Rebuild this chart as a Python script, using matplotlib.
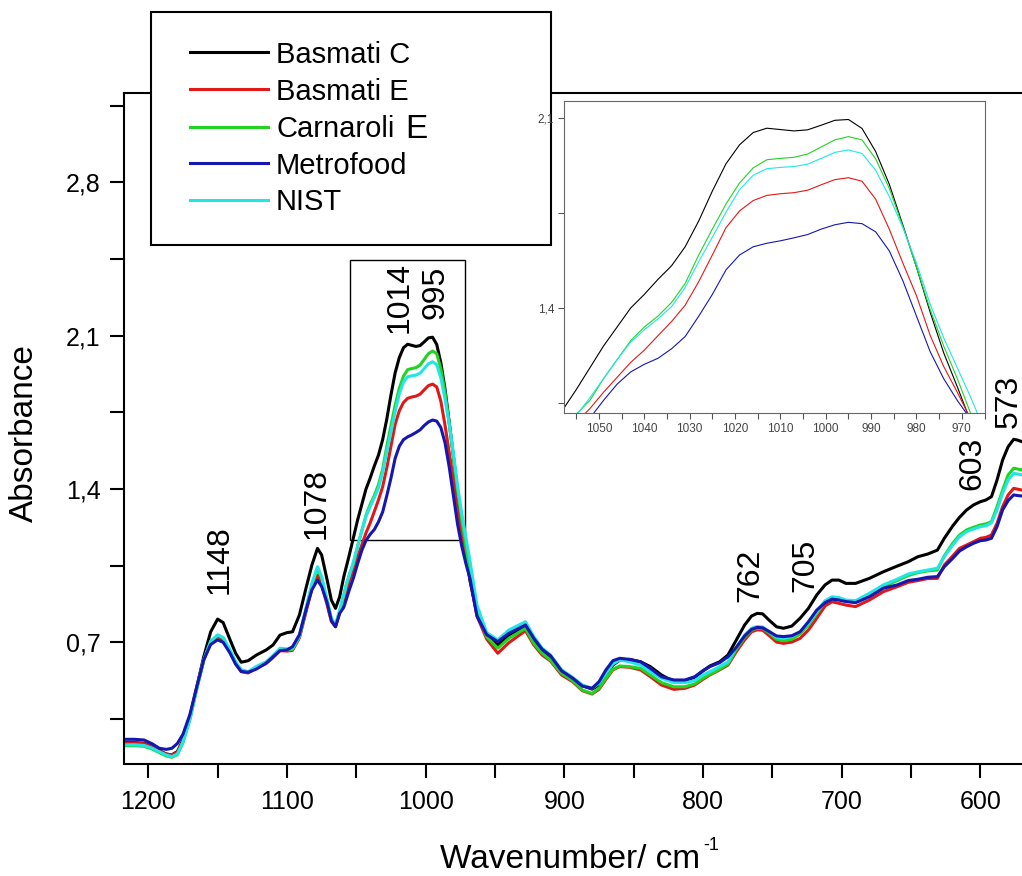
import matplotlib
matplotlib.use("Agg")
import matplotlib.pyplot as plt
from matplotlib.patches import Rectangle
from matplotlib.lines import Line2D
from matplotlib.ticker import FixedLocator, MultipleLocator, FuncFormatter

plt.rcParams['font.family'] = ['Liberation Sans', 'DejaVu Sans']

# ---------------- data ----------------
wavenumber = [
    1217, 1210, 1203, 1197, 1192, 1187, 1183, 1179, 1175, 1170,
    1165, 1160, 1155, 1150, 1146, 1141, 1137, 1133, 1128, 1122,
    1115, 1110, 1105, 1100, 1096, 1091, 1086, 1082, 1078, 1075,
    1071, 1068, 1065, 1062, 1059, 1057,
    1055, 1052, 1049, 1046, 1043, 1040, 1037, 1034, 1031, 1028,
    1025, 1022, 1019, 1016, 1013, 1010, 1007, 1004, 1001, 998,
    995, 992, 989, 986, 983, 980, 977, 974, 971, 968,
    963, 956, 948, 940, 928, 922, 916, 910, 902, 894,
    887, 880, 875, 870, 865, 860, 853, 845, 838, 830,
    821, 813, 806, 800, 795, 788, 782, 776, 770, 765,
    761, 757, 752, 747, 742, 736, 730, 724, 718, 712,
    707, 702, 697, 690, 680, 670, 660, 652, 645, 638,
    631, 626, 620, 615, 610, 605, 600, 596, 592, 588,
    584, 580, 576, 573, 570]

basmati_c = [
    0.242, 0.242, 0.239, 0.224, 0.205, 0.190, 0.186, 0.201, 0.254, 0.360,
    0.497, 0.634, 0.748, 0.806, 0.790, 0.711, 0.650, 0.609, 0.616, 0.642,
    0.665, 0.688, 0.733, 0.744, 0.748, 0.825, 0.954, 1.053, 1.129, 1.099,
    0.984, 0.893, 0.855, 0.908, 1.000, 1.050,
    1.100, 1.180, 1.260, 1.330, 1.400, 1.450, 1.505, 1.555, 1.625, 1.720,
    1.830, 1.930, 2.000, 2.045, 2.061, 2.056, 2.051, 2.055, 2.072, 2.090,
    2.093, 2.060, 1.975, 1.855, 1.705, 1.550, 1.385, 1.235, 1.110, 0.980,
    0.830, 0.730, 0.688, 0.733, 0.774, 0.711, 0.665, 0.634, 0.569, 0.536,
    0.502, 0.486, 0.505, 0.551, 0.596, 0.619, 0.622, 0.611, 0.589, 0.551,
    0.520, 0.525, 0.540, 0.570, 0.592, 0.611, 0.642, 0.711, 0.779, 0.820,
    0.832, 0.830, 0.799, 0.771, 0.764, 0.774, 0.810, 0.855, 0.916, 0.962,
    0.984, 0.984, 0.969, 0.969, 0.992, 1.022, 1.048, 1.068, 1.091, 1.103,
    1.121, 1.175, 1.231, 1.271, 1.304, 1.327, 1.342, 1.350, 1.365, 1.441,
    1.532, 1.593, 1.627, 1.623, 1.616]

basmati_e = [
    0.240, 0.240, 0.237, 0.222, 0.204, 0.189, 0.186, 0.198, 0.250, 0.355,
    0.493, 0.620, 0.700, 0.726, 0.713, 0.655, 0.603, 0.566, 0.560, 0.582,
    0.603, 0.630, 0.662, 0.660, 0.663, 0.720, 0.845, 0.945, 1.007, 0.965,
    0.870, 0.795, 0.771, 0.835, 0.895, 0.935,
    0.980, 1.030, 1.090, 1.145, 1.200, 1.245, 1.298, 1.350, 1.410, 1.497,
    1.595, 1.695, 1.757, 1.795, 1.814, 1.820, 1.824, 1.833, 1.853, 1.872,
    1.879, 1.866, 1.800, 1.690, 1.565, 1.445, 1.300, 1.185, 1.090, 0.990,
    0.820, 0.715, 0.650, 0.698, 0.753, 0.688, 0.642, 0.615, 0.551, 0.520,
    0.479, 0.464, 0.485, 0.531, 0.574, 0.589, 0.586, 0.574, 0.543, 0.505,
    0.485, 0.490, 0.505, 0.531, 0.551, 0.574, 0.596, 0.657, 0.711, 0.748,
    0.757, 0.755, 0.729, 0.701, 0.695, 0.701, 0.718, 0.756, 0.810, 0.866,
    0.885, 0.878, 0.870, 0.863, 0.893, 0.931, 0.954, 0.974, 0.982, 0.991,
    0.992, 1.053, 1.094, 1.129, 1.144, 1.159, 1.175, 1.179, 1.190, 1.243,
    1.319, 1.373, 1.403, 1.399, 1.395]

carnaroli_e = [
    0.228, 0.228, 0.225, 0.212, 0.196, 0.181, 0.175, 0.187, 0.242, 0.347,
    0.488, 0.617, 0.703, 0.733, 0.720, 0.660, 0.607, 0.570, 0.563, 0.586,
    0.607, 0.635, 0.668, 0.665, 0.668, 0.726, 0.857, 0.962, 1.038, 0.995,
    0.888, 0.805, 0.776, 0.843, 0.915, 0.965,
    1.010, 1.060, 1.140, 1.210, 1.280, 1.330, 1.370, 1.420, 1.490, 1.595,
    1.690, 1.782, 1.860, 1.915, 1.945, 1.950, 1.954, 1.966, 1.992, 2.018,
    2.030, 2.018, 1.948, 1.840, 1.700, 1.550, 1.395, 1.260, 1.140, 1.010,
    0.840, 0.725, 0.673, 0.718, 0.764, 0.695, 0.650, 0.619, 0.558, 0.525,
    0.482, 0.466, 0.490, 0.536, 0.577, 0.592, 0.589, 0.581, 0.551, 0.516,
    0.497, 0.497, 0.510, 0.536, 0.554, 0.577, 0.601, 0.668, 0.723, 0.756,
    0.765, 0.763, 0.741, 0.714, 0.707, 0.714, 0.738, 0.779, 0.832, 0.885,
    0.901, 0.899, 0.890, 0.885, 0.920, 0.954, 0.982, 1.005, 1.018, 1.026,
    1.030, 1.095, 1.152, 1.190, 1.213, 1.225, 1.236, 1.241, 1.251, 1.319,
    1.395, 1.464, 1.495, 1.491, 1.487]

metrofood = [
    0.257, 0.257, 0.254, 0.236, 0.216, 0.211, 0.216, 0.238, 0.280, 0.370,
    0.497, 0.620, 0.690, 0.711, 0.700, 0.650, 0.600, 0.567, 0.563, 0.578,
    0.605, 0.634, 0.662, 0.665, 0.680, 0.735, 0.855, 0.940, 0.984, 0.955,
    0.880, 0.800, 0.771, 0.832, 0.860, 0.900,
    0.940, 0.995, 1.060, 1.120, 1.165, 1.193, 1.215, 1.250, 1.295, 1.370,
    1.450, 1.540, 1.595, 1.625, 1.638, 1.647, 1.658, 1.670, 1.690, 1.706,
    1.715, 1.710, 1.680, 1.610, 1.500, 1.370, 1.240, 1.140, 1.060, 0.990,
    0.820, 0.735, 0.703, 0.741, 0.779, 0.718, 0.668, 0.639, 0.570, 0.536,
    0.500, 0.490, 0.520, 0.574, 0.616, 0.627, 0.622, 0.611, 0.581, 0.543,
    0.528, 0.528, 0.543, 0.570, 0.589, 0.607, 0.634, 0.677, 0.729, 0.759,
    0.768, 0.766, 0.748, 0.729, 0.726, 0.730, 0.748, 0.794, 0.847, 0.881,
    0.897, 0.893, 0.886, 0.881, 0.908, 0.947, 0.962, 0.982, 0.988, 0.997,
    1.000, 1.045, 1.083, 1.117, 1.136, 1.152, 1.164, 1.167, 1.175, 1.228,
    1.304, 1.347, 1.373, 1.370, 1.368]

nist = [
    0.232, 0.232, 0.229, 0.216, 0.200, 0.185, 0.178, 0.190, 0.245, 0.350,
    0.490, 0.620, 0.705, 0.733, 0.722, 0.664, 0.612, 0.575, 0.566, 0.590,
    0.611, 0.640, 0.673, 0.670, 0.672, 0.730, 0.863, 0.970, 1.045, 1.000,
    0.893, 0.810, 0.779, 0.847, 0.920, 0.970,
    1.005, 1.070, 1.140, 1.210, 1.275, 1.320, 1.360, 1.405, 1.475, 1.570,
    1.660, 1.752, 1.835, 1.888, 1.912, 1.917, 1.920, 1.929, 1.950, 1.972,
    1.981, 1.968, 1.906, 1.810, 1.695, 1.565, 1.415, 1.290, 1.180, 1.070,
    0.870, 0.745, 0.711, 0.756, 0.794, 0.726, 0.673, 0.642, 0.574, 0.540,
    0.505, 0.490, 0.513, 0.558, 0.601, 0.619, 0.611, 0.596, 0.566, 0.536,
    0.516, 0.516, 0.525, 0.551, 0.566, 0.589, 0.611, 0.677, 0.733, 0.764,
    0.772, 0.770, 0.748, 0.723, 0.718, 0.726, 0.748, 0.787, 0.840, 0.890,
    0.908, 0.904, 0.893, 0.890, 0.924, 0.962, 0.988, 1.012, 1.022, 1.030,
    1.038, 1.091, 1.144, 1.182, 1.205, 1.217, 1.228, 1.232, 1.246, 1.304,
    1.380, 1.441, 1.472, 1.468, 1.464]

series_names = ["Basmati C", "Basmati E", "Carnaroli E", "Metrofood", "NIST"]
series_values = [basmati_c, basmati_e, carnaroli_e, metrofood, nist]
series_colors = ["#000000", "#e01818", "#22d422", "#1616b0", "#22e6e6"]

x_ticks = [1200, 1100, 1000, 900, 800, 700, 600]
y_ticks = [0.7, 1.4, 2.1, 2.8]
inset_y_ticks = [1.4, 2.1]
peak_labels = ["1148", "1078", "1014", "995", "762", "705", "603", "573"]

# ---------------- layout ----------------
W, H = 1022, 876
fig = plt.figure(figsize=(W / 100, H / 100), dpi=100)


def fx(px):
    return px / W


def fy(py):
    return 1 - py / H


comma = FuncFormatter(lambda v, p: f"{v:.1f}".replace(".", ","))

ax = fig.add_axes([fx(124), fy(764), fx(1022 - 124), (764 - 92.7) / H])
draw_order = [0, 1, 2, 4, 3]
for i in draw_order:
    ax.plot(wavenumber, series_values[i], color=series_colors[i], lw=2.2,
            solid_joinstyle="round")
ax.set_xlim(1217.5, 570)
ax.set_ylim(0.1443, 3.2096)
ax.spines["right"].set_visible(False)
for s in ["left", "bottom", "top"]:
    ax.spines[s].set_linewidth(1.5)
ax.xaxis.set_major_locator(FixedLocator(x_ticks))
ax.xaxis.set_minor_locator(MultipleLocator(50))
ax.yaxis.set_major_locator(FixedLocator(y_ticks))
ax.yaxis.set_minor_locator(FixedLocator([0.35, 1.05, 1.75, 2.45, 3.15]))
ax.yaxis.set_major_formatter(comma)
ax.tick_params(which="both", direction="out", length=10, width=1.5,
               top=False, right=False)
ax.tick_params(axis="x", labelsize=18, pad=8.5)
ax.tick_params(axis="y", labelsize=18, pad=7)

# zoom box
box_x0, box_x1 = 1054.7, 971.6
box_y0, box_y1 = 1.167, 2.446
ax.add_patch(Rectangle((box_x0, box_y0), box_x1 - box_x0, box_y1 - box_y0,
                       fill=False, ec="black", lw=1.0))

# peak annotations
label_pos = [(1148.3, 1.076), (1078.5, 1.336), (1019, 2.277), (993, 2.297),
             (766, 1.007), (726, 1.053), (605.7, 1.515), (579.8, 1.802)]
for txt, (xp, yp) in zip(peak_labels, label_pos):
    ax.text(xp, yp, txt, rotation=90, fontsize=23, ha="center", va="center",
            clip_on=False)

fig.text(fx(24), fy(433), "Absorbance", rotation=90, fontsize=24,
         ha="center", va="center")
fig.text(fx(700), fy(868.3), "Wavenumber/ cm", fontsize=24,
         ha="right", va="baseline")
fig.text(fx(703), fy(850), "-1", fontsize=13, ha="left", va="baseline")

# ---------------- inset ----------------
ins = fig.add_axes([fx(564), fy(413), fx(421), 312 / H])
ins.set_zorder(10)
for i in draw_order:
    ins.plot(wavenumber, series_values[i], color=series_colors[i], lw=0.8)
ins.set_xlim(1057.7, 964.9)
ins.set_ylim(1.014, 2.161)
for s in ins.spines.values():
    s.set_color("#666666")
    s.set_linewidth(0.8)
ins.xaxis.set_major_locator(MultipleLocator(10))
ins.xaxis.set_minor_locator(MultipleLocator(5))
ins.yaxis.set_major_locator(FixedLocator(inset_y_ticks))
ins.yaxis.set_minor_locator(FixedLocator([1.05, 1.75]))
ins.yaxis.set_major_formatter(comma)
ins.tick_params(which="both", direction="out", length=4, width=0.8,
                color="#555555", labelsize=8.5, labelcolor="#444444", pad=3)

# ---------------- legend box ----------------
fig.add_artist(Rectangle((fx(150.7), fy(245)), fx(400), 233.3 / H,
                         transform=fig.transFigure, fc="white", ec="black",
                         lw=1.5, zorder=5))
rows = [52.3, 89.3, 126.7, 163.3, 200]
for name, col, ry in zip(series_names, series_colors, rows):
    fig.add_artist(Line2D([fx(190), fx(268)], [fy(ry), fy(ry)],
                          transform=fig.transFigure, color=col, lw=2.2,
                          zorder=6))
    if name == "Carnaroli E":
        base, last = name.rsplit(" ", 1)
        fig.text(fx(276), fy(ry + 10.5), base, fontsize=21, va="baseline",
                 zorder=6)
        fig.text(fx(405), fy(ry + 11.5), last, fontsize=24, va="baseline",
                 zorder=6)
    else:
        fig.text(fx(276), fy(ry + 10.5), name, fontsize=21, va="baseline",
                 zorder=6)

fig.savefig("out.png", dpi=100)
